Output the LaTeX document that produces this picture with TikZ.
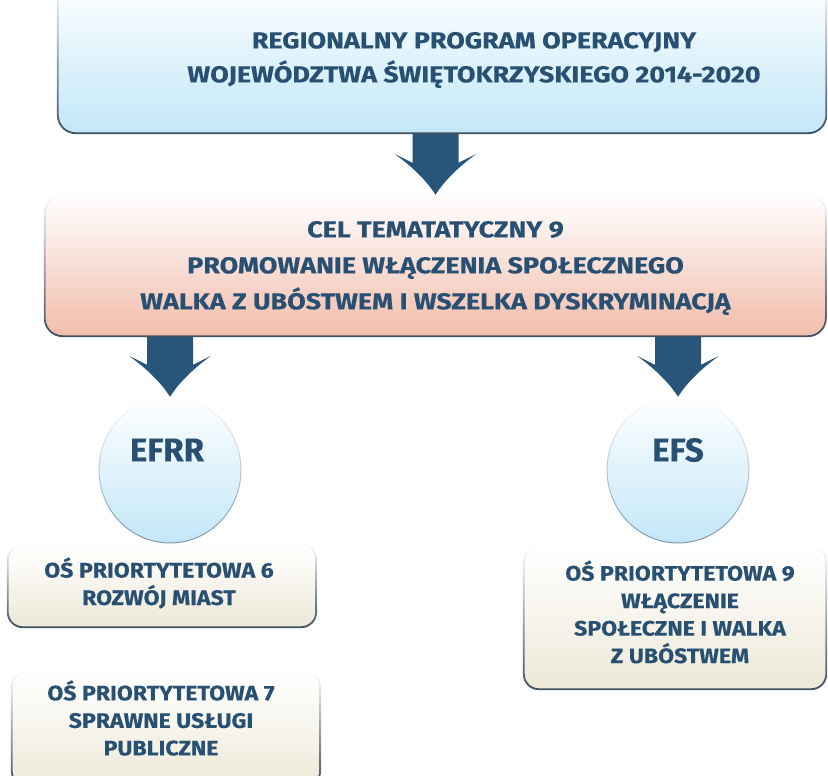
\documentclass[tikz,border=0pt]{standalone}
\usepackage{fontspec}
\setmainfont{Fira Sans}[BoldFeatures={FakeBold=0.3}]
\newfontfamily\platesans{Fira Sans}[FakeStretch=1.17, BoldFeatures={FakeBold=0.4}]
\newfontfamily\axissans{Fira Sans}[FakeStretch=1.1, BoldFeatures={FakeBold=0.4}]
\usepackage{tikz}
\usetikzlibrary{calc,fadings,shapes.geometric}
\definecolor{inkblue}{RGB}{40,80,115}
\definecolor{arrowblue}{RGB}{40,86,122}
\definecolor{skyfill}{RGB}{194,231,248}
\definecolor{salmonfill}{RGB}{242,189,171}
\definecolor{creamfill}{RGB}{237,233,216}
\definecolor{edgegray}{RGB}{62,80,96}
\definecolor{ringblue}{RGB}{128,152,170}
\tikzfading[name=edgefade, top color=transparent!100, middle color=transparent!0, bottom color=transparent!0]
\tikzset{
	plate/.style={rectangle, rounded corners=18pt, inner sep=0pt},
	axisbox/.style={rectangle, rounded corners=15pt, inner sep=0pt, top color=white, bottom color=creamfill},
	fund/.style={ellipse, inner sep=0pt, minimum width=142pt, minimum height=146pt, top color=white, bottom color=skyfill},
	rim/.style={draw=edgegray, line width=1.8pt, path fading=edgefade},
	headtext/.style={text=inkblue, font=\platesans\fontsize{23}{34}\selectfont\bfseries, align=center, inner sep=0pt},
	axistext/.style={text=inkblue, font=\axissans\fontsize{21}{27.5}\selectfont\bfseries, align=center, inner sep=0pt},
	fundtext/.style={text=inkblue, font=\fontsize{33}{40}\selectfont\bfseries, inner sep=0pt}
}
\def\flowarrow(#1)(#2){\fill[arrowblue] let \p1=(#1), \p2=(#2) in (\x1-23,\y1) -- (\x1+23,\y1) -- (\x1+23,\y2+32) -- (\x1+41,\y2+41) .. controls (\x1+26,\y2+30) and (\x1+10,\y2+16) .. (\x1,\y2) .. controls (\x1-10,\y2+16) and (\x1-26,\y2+30) .. (\x1-41,\y2+41) -- (\x1-23,\y2+32) -- cycle;}

\begin{document}
\begin{tikzpicture}[x=1pt, y=-1pt]
			%%%%% START %%%%%
			\useasboundingbox (0, 0) rectangle (828, 776);
			\clip (0, 0) rectangle (828, 776);
			
			% boxes
			\node[plate, minimum width=768pt, minimum height=153pt, top color=white, middle color=skyfill, bottom color=skyfill] (rpo) at (442, 56.5) {};
			\node[plate, minimum width=781pt, minimum height=141pt, top color=white, middle color=salmonfill, bottom color=salmonfill] (cel) at (435.5, 265.5) {};
			\node[fund] (efrr) at (170, 470) {};
			\node[fund] (efs) at (678, 470) {};
			\node[axisbox, minimum width=308pt, minimum height=82pt] (os6) at (162, 586) {};
			\node[axisbox, minimum width=308pt, minimum height=114pt] (os7) at (166, 729) {};
			\node[axisbox, minimum width=302pt, minimum height=142pt] (os9) at (675, 618) {};
			
			% arrows
			\flowarrow(rpo.south -| cel.north)(cel.north);
			\flowarrow(cel.south -| efrr.north)(efrr.north);
			\flowarrow(cel.south -| efs.north)(efs.north);
			
			% edges
			\draw[rim, rounded corners=18pt] (rpo.north west) rectangle (rpo.south east);
			\draw[rim, rounded corners=18pt] (cel.north west) rectangle (cel.south east);
			\draw[rim, draw=ringblue, line width=1pt] (efrr.center) ellipse [x radius=71, y radius=73];
			\draw[rim, draw=ringblue, line width=1pt] (efs.center) ellipse [x radius=71, y radius=73];
			\draw[rim, rounded corners=15pt] (os6.north west) rectangle (os6.south east);
			\draw[rim, rounded corners=15pt] (os7.north west) rectangle (os7.south east);
			\draw[rim, rounded corners=15pt] (os9.north west) rectangle (os9.south east);
			
			% texts
			\node[headtext] (rpolabel) at (474, 60) {REGIONALNY PROGRAM OPERACYJNY\\WOJEWÓDZTWA ŚWIĘTOKRZYSKIEGO 2014-2020};
			\node[headtext, font=\platesans\fontsize{23}{36}\selectfont\bfseries] (cellabel) at (435.5, 268) {CEL TEMATATYCZNY 9\\PROMOWANIE WŁĄCZENIA SPOŁECZNEGO\\WALKA Z UBÓSTWEM I WSZELKA DYSKRYMINACJĄ};
			\node[fundtext] (efrrlabel) at (167, 450) {EFRR};
			\node[fundtext] (efslabel) at (678, 450) {EFS};
			\node[axistext] (os6label) at (159, 583) {OŚ PRIORTYTETOWA 6\\ROZWÓJ MIAST};
			\node[axistext] (os7label) at (161, 718) {OŚ PRIORTYTETOWA 7\\SPRAWNE USŁUGI\\PUBLICZNE};
			\node[axistext] (os9label) at (680, 612) {OŚ PRIORTYTETOWA 9\\WŁĄCZENIE\\SPOŁECZNE I WALKA\\Z UBÓSTWEM};
			%%%%% END %%%%%
\end{tikzpicture}
\end{document}
